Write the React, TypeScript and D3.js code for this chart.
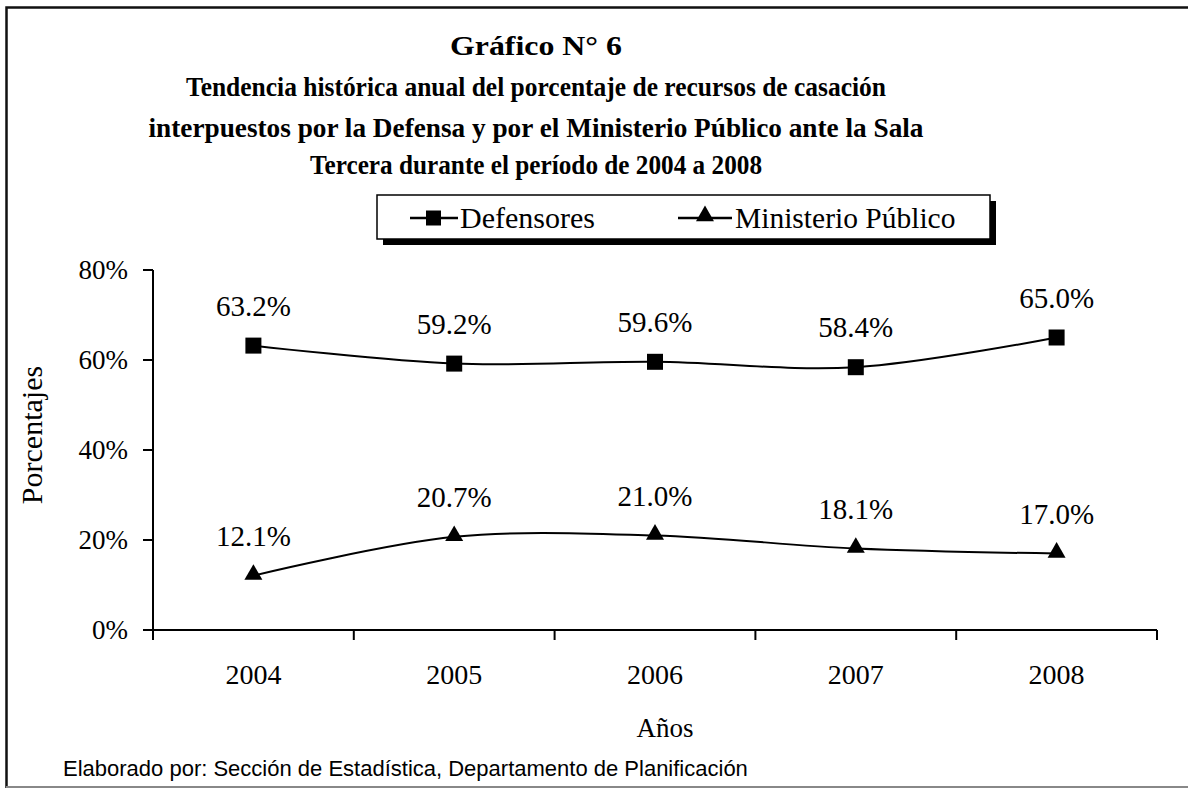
import React from "react";
import * as d3 from "d3";

const years = ["2004", "2005", "2006", "2007", "2008"];
const defensores = [63.2, 59.2, 59.6, 58.4, 65.0];
const ministerio = [12.1, 20.7, 21.0, 18.1, 17.0];
const yTicks = [0, 20, 40, 60, 80];
const titleLines = [
  "Gráfico N° 6",
  "Tendencia histórica anual del porcentaje de recursos de casación",
  "interpuestos por la Defensa y por el Ministerio Público ante la Sala",
  "Tercera durante el período de 2004 a 2008",
];
const titleWidths = [172, 700, 775, 452];
const seriesNames = ["Defensores", "Ministerio Público"];

export default function App() {
  const W = 1188, H = 788;
  const left = 153, right = 1157, top = 270, bottom = 630;
  const x = d3.scaleBand<string>().domain(years).range([left, right]);
  const y = d3.scaleLinear().domain([0, 80]).range([bottom, top]);
  const cx = (d: string) => (x(d) as number) + x.bandwidth() / 2;
  const line = d3
    .line<number>()
    .x((_, i) => cx(years[i]))
    .y((v) => y(v))
    .curve(d3.curveCardinal.tension(0));
  const serif = "'Liberation Serif', 'Times New Roman', serif";
  const tri = d3.symbol().type(d3.symbolTriangle).size(140)() as string;
  const boundaries = [...years.map((d) => x(d) as number), right];

  return (
    <svg width={W} height={H} style={{ position: "absolute", left: 0, top: 0 }} fontFamily={serif}>
      <rect x={0} y={0} width={W} height={H} fill="#fff" />
      <path d={`M6.5,${H + 5} L6.5,7.5 L${W + 5},7.5`} fill="none" stroke="#111" strokeWidth={2.5} />
      <line x1={6} x2={W} y1={787} y2={787} stroke="#888" strokeWidth={2} />

      {titleLines.map((t, i) => (
        <text
          key={i}
          x={536}
          y={[55, 96, 137, 174][i]}
          textAnchor="middle"
          fontWeight="bold"
          fontSize={28}
          textLength={titleWidths[i]}
          lengthAdjust="spacingAndGlyphs"
        >
          {t}
        </text>
      ))}

      {/* legend */}
      <rect x={383} y={201} width={613} height={44} fill="#000" />
      <rect x={377} y={195} width={613} height={44} fill="#fff" stroke="#000" strokeWidth={1.5} />
      <line x1={410} x2={458} y1={218} y2={218} stroke="#000" strokeWidth={2.5} />
      <rect x={426} y={210.5} width={15} height={15} fill="#000" />
      <text x={460} y={228} fontSize={30}>{seriesNames[0]}</text>
      <line x1={678} x2={732} y1={218} y2={218} stroke="#000" strokeWidth={2.5} />
      <path d={tri} transform="translate(705,216)" fill="#000" />
      <text x={735} y={228} fontSize={29.5}>{seriesNames[1]}</text>

      {/* axes */}
      <line x1={left} x2={left} y1={top} y2={bottom} stroke="#000" strokeWidth={2} />
      {yTicks.map((t) => (
        <g key={t}>
          <line x1={left - 10} x2={left} y1={y(t)} y2={y(t)} stroke="#000" strokeWidth={2} />
          <text x={128} y={y(t) + 9} textAnchor="end" fontSize={27}>{`${t}%`}</text>
        </g>
      ))}
      <line x1={left} x2={right} y1={bottom} y2={bottom} stroke="#000" strokeWidth={2} />
      {boundaries.map((b, i) => (
        <line key={i} x1={b} x2={b} y1={bottom} y2={bottom + 10} stroke="#000" strokeWidth={2} />
      ))}
      {years.map((d) => (
        <text key={d} x={cx(d)} y={684} textAnchor="middle" fontSize={28}>{d}</text>
      ))}
      <text x={665} y={737} textAnchor="middle" fontSize={27}>Años</text>
      <text transform="translate(42,435) rotate(-90)" textAnchor="middle" fontSize={30}>Porcentajes</text>

      {/* series */}
      <path d={line(defensores) as string} fill="none" stroke="#000" strokeWidth={2} />
      <path d={line(ministerio) as string} fill="none" stroke="#000" strokeWidth={2} />
      {defensores.map((v, i) => (
        <g key={"d" + i}>
          <rect x={cx(years[i]) - 8} y={y(v) - 8} width={16} height={16} fill="#000" />
          <text x={cx(years[i])} y={y(v) - 30} textAnchor="middle" fontSize={29}>{`${v.toFixed(1)}%`}</text>
        </g>
      ))}
      {ministerio.map((v, i) => (
        <g key={"m" + i}>
          <path d={tri} transform={`translate(${cx(years[i])},${y(v) - 1})`} fill="#000" />
          <text x={cx(years[i])} y={y(v) - 30} textAnchor="middle" fontSize={29}>{`${v.toFixed(1)}%`}</text>
        </g>
      ))}

      <text x={63} y={776} fontFamily="'Liberation Sans', Arial, sans-serif" fontSize={22}>
        Elaborado por: Sección de Estadística, Departamento de Planificación
      </text>
    </svg>
  );
}
